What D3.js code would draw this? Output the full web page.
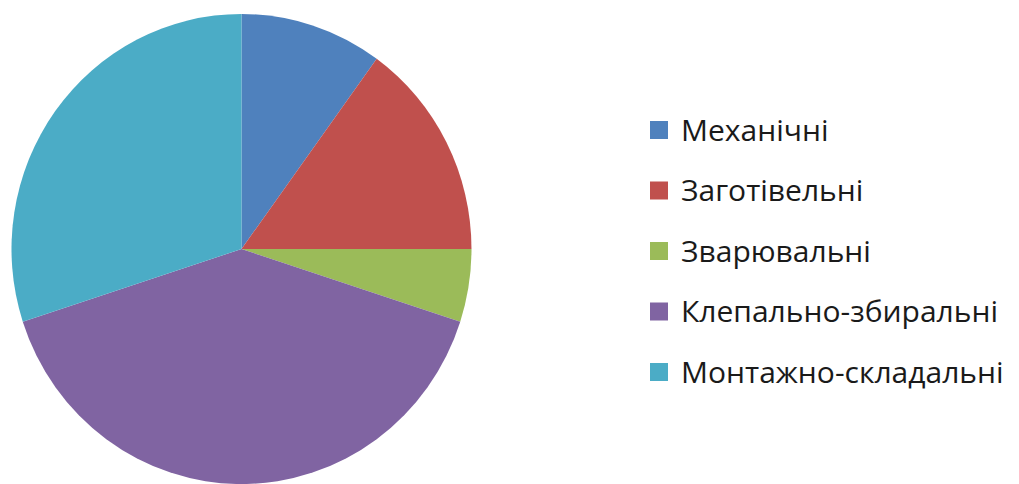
<!DOCTYPE html>
<html>
<head>
<meta charset="utf-8">
<script src="https://cdn.jsdelivr.net/npm/d3@7"></script>
<style>
  body { margin: 0; background: #fff; }
  text { font-family: "Open Sans", sans-serif; }
</style>
</head>
<body>
<div class="chart"></div>
<script>
var categories = ['Механічні', 'Заготівельні', 'Зварювальні', 'Клепально-збиральні', 'Монтажно-складальні'];
var values = [10, 15, 5, 40, 30];
var colors = ['#4F81BD', '#C0504D', '#9BBB59', '#8064A2', '#4BACC6'];

var width = 1019, height = 484;

var svg = d3.select('.chart').append('svg')
            .attr('width', width)
            .attr('height', height);

var pieData = d3.pie().sort(null).value(function(d) { return d; })(values);

var arc = d3.arc().innerRadius(0).outerRadius(230);

// picture is a bit taller than wide, so stretch the pie a little
var pieGroup = svg.append('g')
                  .attr('transform', 'translate(241.5,249) scale(1,1.022)');

pieGroup.selectAll('path')
        .data(pieData)
        .enter()
        .append('path')
        .attr('d', arc)
        .attr('fill', function(d, i) { return colors[i]; });

var legendY = d3.scalePoint().domain(categories).range([130, 372]);

var legend = svg.selectAll('.legend')
                .data(categories)
                .enter()
                .append('g')
                .attr('class', 'legend')
                .attr('transform', function(d) { return 'translate(650,' + legendY(d) + ')'; });

legend.append('rect')
      .attr('x', 0)
      .attr('y', -9)
      .attr('width', 18)
      .attr('height', 18)
      .attr('fill', function(d, i) { return colors[i]; });

legend.append('text')
      .attr('x', 31)
      .attr('y', 0)
      .attr('dy', '0.36em')
      .attr('font-size', 30)
      .attr('fill', '#1a1a1a')
      .text(function(d) { return d; });
</script>
</body>
</html>
